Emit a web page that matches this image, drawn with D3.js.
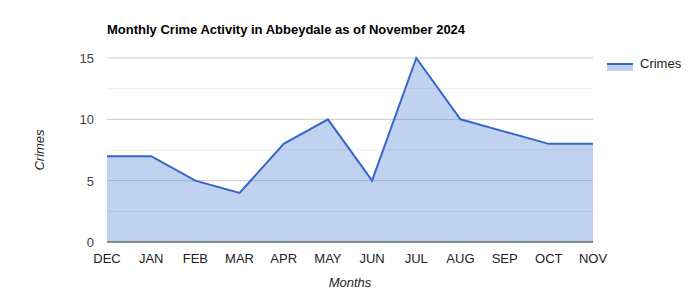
<!DOCTYPE html>
<html lang="en">
<head>
    <meta charset="UTF-8">
    <title>Monthly Crime Activity in Abbeydale</title>
    <script src="https://d3js.org/d3.v7.min.js"></script>
    <style>
        body { margin: 0; background: #fff; }
        text { font-family: Arial, "Liberation Sans", sans-serif; }
    </style>
</head>
<body>
    <div id="chart"></div>

    <script>
        // Chart data
        const months = ["DEC", "JAN", "FEB", "MAR", "APR", "MAY", "JUN", "JUL", "AUG", "SEP", "OCT", "NOV"];
        const crimes = [7, 7, 5, 4, 8, 10, 5, 15, 10, 9, 8, 8];
        const yTicks = [0, 5, 10, 15];
        const yMinorTicks = [2.5, 7.5, 12.5];

        const margin = {top: 58, right: 107, bottom: 58, left: 107};
        const width = 700 - margin.left - margin.right;
        const height = 300 - margin.top - margin.bottom;

        const svg = d3.select("#chart")
            .append("svg")
            .attr("width", 700)
            .attr("height", 300);

        const g = svg.append("g")
            .attr("transform", `translate(${margin.left},${margin.top})`);

        const x = d3.scalePoint()
            .domain(months)
            .range([0, width]);

        const y = d3.scaleLinear()
            .domain([0, 15])
            .range([height, 0]);

        // Gridlines
        g.selectAll(".minor")
            .data(yMinorTicks)
            .enter().append("line")
            .attr("x1", 0).attr("x2", width)
            .attr("y1", d => y(d)).attr("y2", d => y(d))
            .attr("stroke", "#ebebeb");

        g.selectAll(".major")
            .data(yTicks.slice(1))
            .enter().append("line")
            .attr("x1", 0).attr("x2", width)
            .attr("y1", d => y(d)).attr("y2", d => y(d))
            .attr("stroke", "#cccccc");

        const data = months.map((m, i) => ({month: m, value: crimes[i]}));

        // Area
        g.append("path")
            .datum(data)
            .attr("fill", "#3366cc")
            .attr("fill-opacity", 0.3)
            .attr("d", d3.area()
                .x(d => x(d.month))
                .y0(y(0))
                .y1(d => y(d.value)));

        // Line
        g.append("path")
            .datum(data)
            .attr("fill", "none")
            .attr("stroke", "#3366cc")
            .attr("stroke-width", 2)
            .attr("d", d3.line()
                .x(d => x(d.month))
                .y(d => y(d.value)));

        // Baseline
        g.append("line")
            .attr("x1", 0).attr("x2", width)
            .attr("y1", y(0)).attr("y2", y(0))
            .attr("stroke", "#333333");

        // Y tick labels
        g.selectAll(".ylabel")
            .data(yTicks)
            .enter().append("text")
            .attr("x", -13)
            .attr("y", d => y(d) + 5)
            .attr("text-anchor", "end")
            .attr("font-size", 13)
            .attr("fill", "#444")
            .text(d => d);

        // X tick labels
        g.selectAll(".xlabel")
            .data(months)
            .enter().append("text")
            .attr("x", d => x(d))
            .attr("y", height + 21)
            .attr("text-anchor", "middle")
            .attr("font-size", 13)
            .attr("fill", "#222")
            .text(d => d);

        // Axis titles
        svg.append("text")
            .attr("x", margin.left + width / 2)
            .attr("y", 287)
            .attr("text-anchor", "middle")
            .attr("font-size", 13)
            .attr("font-style", "italic")
            .attr("fill", "#222")
            .text("Months");

        svg.append("text")
            .attr("transform", `translate(44,${margin.top + height / 2}) rotate(-90)`)
            .attr("text-anchor", "middle")
            .attr("font-size", 13)
            .attr("font-style", "italic")
            .attr("fill", "#222")
            .text("Crimes");

        // Title
        svg.append("text")
            .attr("x", margin.left)
            .attr("y", 34)
            .attr("font-size", 13)
            .attr("font-weight", "bold")
            .attr("fill", "#000")
            .text("Monthly Crime Activity in Abbeydale as of November 2024");

        // Legend
        const legend = svg.append("g")
            .attr("transform", "translate(607,64)");
        legend.append("rect")
            .attr("x", 0).attr("y", 0)
            .attr("width", 26).attr("height", 7)
            .attr("fill", "#3366cc")
            .attr("fill-opacity", 0.3);
        legend.append("line")
            .attr("x1", 0).attr("x2", 26)
            .attr("y1", 0).attr("y2", 0)
            .attr("stroke", "#3366cc")
            .attr("stroke-width", 2);
        legend.append("text")
            .attr("x", 33)
            .attr("y", 4)
            .attr("font-size", 13)
            .attr("fill", "#222")
            .text("Crimes");
    </script>
</body>
</html>
